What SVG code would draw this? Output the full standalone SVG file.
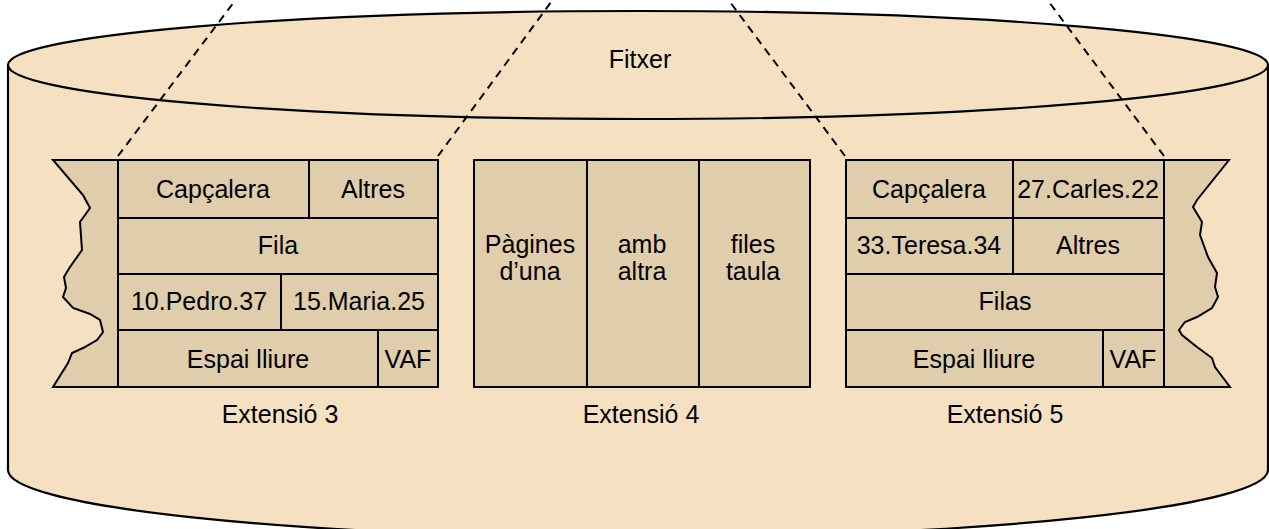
<svg xmlns="http://www.w3.org/2000/svg" width="1269" height="529" viewBox="0 0 1269 529">
<style>
.cyl{fill:#F5E1C1;stroke:#000;stroke-width:2.2}
.cell{fill:#E0CDAB;stroke:#000;stroke-width:2}
.ln{fill:none;stroke:#000;stroke-width:2}
.dash{fill:none;stroke:#000;stroke-width:2;stroke-dasharray:8 6}
text{font-family:"Liberation Sans",Arial,sans-serif;font-size:25px;fill:#000;text-anchor:middle}
</style>
<rect x="0" y="0" width="1269" height="529" fill="#fff"/>
<g id="fitxer">
<path class="cyl" d="M8,65 L8,470 A630,67 0 0 0 1268,470 L1268,65 Z"/>
<ellipse class="cyl" cx="638" cy="65" rx="630" ry="54"/>
<text x="640" y="68">Fitxer</text>
</g>
<g id="connectors">
<line class="dash" x1="118" y1="156" x2="237" y2="-2"/>
<line class="dash" x1="438" y1="156" x2="554" y2="-2"/>
<line class="dash" x1="845" y1="156" x2="727" y2="-2"/>
<line class="dash" x1="1164" y1="156" x2="1046" y2="-2"/>
</g>
<g id="extensio3">
<path class="cell" d="M118,160 L53,160 L83,195 L90,208 L80,222 L82,250 L70,267 L64,277 L66,288 L63,297 L73,308 L90,314 L100,320 L103,332 L97,340 L83,348 L72,353 L68,363 L53,387 L118,387 Z"/>
<rect class="cell" x="118" y="160" width="320" height="227"/>
<path class="ln" d="M118,218 H438 M118,274 H438 M118,330 H438 M309,160 V218 M281,274 V330 M378,330 V387"/>
<text x="213" y="198">Capçalera</text>
<text x="373" y="198">Altres</text>
<text x="278" y="254">Fila</text>
<text x="199" y="310">10.Pedro.37</text>
<text x="359" y="310">15.Maria.25</text>
<text x="248" y="368">Espai lliure</text>
<text x="408" y="368">VAF</text>
<text x="280" y="423">Extensió 3</text>
</g>
<g id="extensio4">
<rect class="cell" x="474" y="160" width="336" height="227"/>
<path class="ln" d="M587,160 V387 M699,160 V387"/>
<text x="530" y="253">Pàgines</text>
<text x="530" y="280">d’una</text>
<text x="642" y="253">amb</text>
<text x="642" y="280">altra</text>
<text x="753" y="253">files</text>
<text x="753" y="280">taula</text>
<text x="641" y="423">Extensió 4</text>
</g>
<g id="extensio5">
<path class="cell" d="M1164,160 L1229,160 L1197,200 L1193,207 L1202,222 L1200,235 L1208,257 L1217,273 L1215,287 L1218,297 L1212,308 L1197,317 L1185,322 L1179,330 L1182,335 L1197,347 L1212,358 L1215,367 L1230,387 L1164,387 Z"/>
<rect class="cell" x="846" y="160" width="318" height="227"/>
<path class="ln" d="M846,218 H1164 M846,274 H1164 M846,330 H1164 M1013,160 V274 M1103,330 V387"/>
<text x="929" y="198">Capçalera</text>
<text x="1088" y="198">27.Carles.22</text>
<text x="929" y="254">33.Teresa.34</text>
<text x="1088" y="254">Altres</text>
<text x="1005" y="310">Filas</text>
<text x="974" y="368">Espai lliure</text>
<text x="1133" y="368">VAF</text>
<text x="1005" y="423">Extensió 5</text>
</g>
</svg>
